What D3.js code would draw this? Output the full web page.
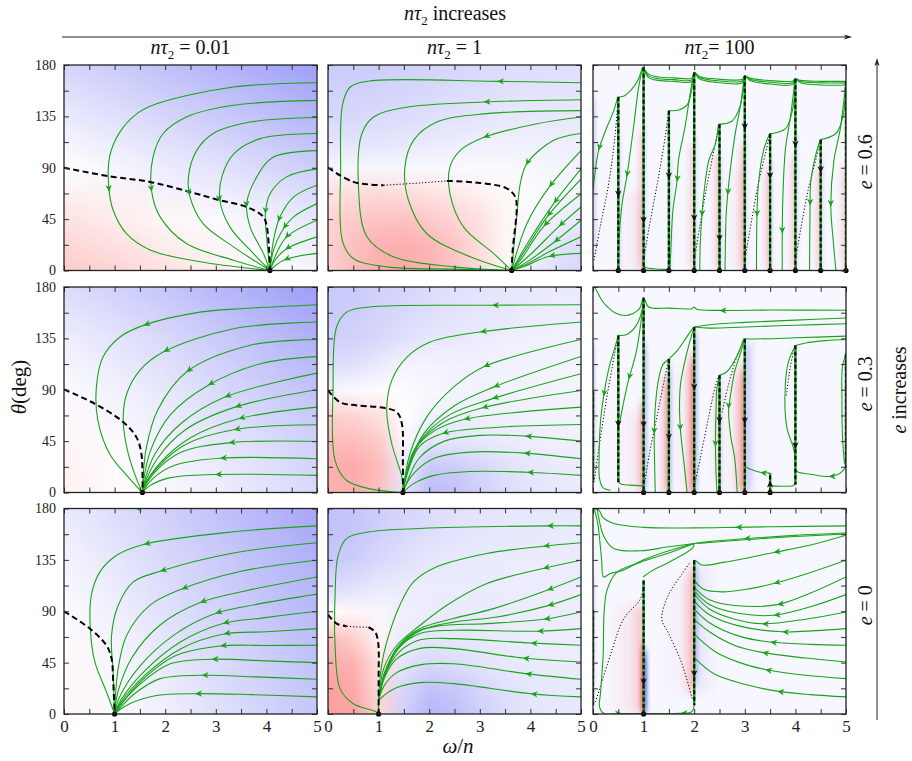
<!DOCTYPE html>
<html lang="en">
<head>
<meta charset="UTF-8">
<title>Spin flows</title>
<script src="https://cdn.jsdelivr.net/npm/d3@7"></script>
<style>
    body { margin: 0; background: #fff; }
    .flow { fill: none; stroke: #1aa31a; stroke-width: 1.1; }
    .dash { fill: none; stroke: #000; stroke-width: 2; stroke-dasharray: 6 3.5; }
    .dot { fill: none; stroke: #000; stroke-width: 1; stroke-dasharray: 1.2 2; }
</style>
</head>
<body>
<svg id="chart"></svg>
<script>
    /* axes */
    const omegaTicks = [0, 1, 2, 3, 4, 5];
    const omegaMinor = [0, 0.5, 1, 1.5, 2, 2.5, 3, 3.5, 4, 4.5, 5];
    const thetaTicks = [0, 45, 90, 135, 180];
    const thetaMinor = [0, 22.5, 45, 67.5, 90, 112.5, 135, 157.5, 180];
    const tauLabels = ["0.01", "1", "100"];
    const eLabels = ["0.6", "0.3", "0"];

    /* backgrounds: rows theta=180 -> 0, + blue / - red */
    const bg_e6t0 = [
        [30, 38, 46, 54, 62, 70],
        [15, 22, 30, 38, 46, 55],
        [0, 6, 13, 20, 28, 36],
        [-15, -10, -4, 3, 10, 18],
        [-28, -22, -15, -8, 0, 8]];
    const bg_e3t0 = [
        [25, 33, 42, 52, 62, 72],
        [12, 20, 28, 38, 48, 58],
        [2, 10, 18, 27, 36, 45],
        [-5, 2, 10, 18, 26, 35],
        [-8, -2, 5, 12, 20, 28]];
    const bg_e0t0 = [
        [15, 25, 35, 45, 55, 65],
        [8, 18, 28, 38, 48, 58],
        [2, 12, 22, 32, 42, 52],
        [-3, 6, 16, 26, 36, 46],
        [-5, 3, 12, 22, 32, 42]];
    const bg_e6t1 = [
        [38, 38, 36, 34, 32, 30, 28, 26, 25, 24, 22],
        [34, 34, 32, 30, 28, 26, 24, 22, 21, 20, 20],
        [28, 28, 27, 25, 23, 21, 19, 17, 16, 16, 16],
        [20, 20, 19, 17, 15, 13, 12, 11, 11, 12, 13],
        [6, 6, 5, 5, 4, 4, 4, 4, 5, 7, 9],
        [-15, -18, -20, -18, -15, -12, -8, -3, 2, 6, 10],
        [-22, -28, -32, -32, -28, -22, -15, -5, 5, 12, 18],
        [-25, -33, -40, -42, -38, -30, -18, -5, 10, 20, 26],
        [-25, -35, -42, -45, -40, -30, -18, -3, 12, 24, 30]];
    const bg_e3t1 = [
        [40, 38, 34, 30, 26, 22, 20, 18, 16, 15, 15],
        [38, 36, 32, 28, 24, 20, 18, 16, 14, 13, 13],
        [35, 33, 28, 22, 18, 16, 14, 12, 11, 10, 10],
        [25, 22, 15, 8, 8, 10, 10, 10, 9, 9, 9],
        [8, 4, 2, 2, 5, 8, 9, 9, 9, 9, 9],
        [-25, -22, -15, 0, 10, 12, 12, 11, 10, 10, 10],
        [-35, -35, -28, 5, 20, 20, 17, 15, 13, 12, 12],
        [-42, -45, -35, 15, 40, 38, 30, 22, 18, 15, 14],
        [-40, -42, -32, 20, 50, 45, 35, 25, 20, 16, 15]];
    const bg_e0t1 = [
        [45, 42, 36, 30, 26, 22, 20, 18, 17, 16, 16],
        [45, 42, 35, 28, 24, 20, 18, 17, 16, 15, 15],
        [40, 36, 28, 22, 18, 16, 15, 14, 14, 14, 14],
        [28, 22, 16, 14, 14, 14, 14, 14, 13, 13, 13],
        [0, -5, 5, 12, 14, 15, 15, 14, 13, 13, 13],
        [-35, -25, -5, 14, 18, 18, 16, 15, 14, 13, 13],
        [-45, -40, -15, 20, 28, 25, 20, 17, 15, 14, 14],
        [-50, -45, -20, 30, 45, 40, 30, 22, 18, 16, 15],
        [-50, -48, -22, 35, 55, 48, 35, 25, 20, 17, 16]];

    /* shading near resonances: [w0, w1, lo, hi, value]; red fades in toward w1, blue fades out from w0 */
    const strip_e6t2 = [
        [0.8, 0.99, 0, 120, -25], [1.8, 1.99, 0, 110, -25], [2.3, 2.49, 0, 100, -30], [2.8, 2.99, 0, 110, -30],
        [3.3, 3.49, 0, 90, -30], [3.8, 3.99, 0, 100, -25], [4.3, 4.49, 0, 90, -25], [4.8, 4.99, 0, 90, -20],
        [0, 0.1, 20, 150, 25], [0.51, 0.6, 0, 120, 15], [1.01, 1.1, 0, 130, 15], [1.51, 1.6, 0, 100, 15],
        [2.01, 2.1, 0, 120, 15], [2.51, 2.6, 0, 100, 15], [3.01, 3.1, 0, 120, 15], [3.51, 3.6, 0, 100, 15],
        [4.01, 4.1, 0, 120, 15], [4.51, 4.6, 0, 100, 15],
        [0.3, 0.99, 0, 70, -10], [2.5, 2.99, 0, 90, -10]];
    const strip_e3t2 = [
        [0.85, 0.99, 0, 80, -45], [1.3, 1.49, 0, 100, -45], [1.8, 1.99, 0, 120, -60], [2.3, 2.49, 10, 90, -20],
        [2.75, 2.99, 0, 110, -50], [0, 0.06, 20, 130, 40], [1.01, 1.12, 0, 130, 35], [1.51, 1.6, 0, 110, 30],
        [2.01, 2.12, 0, 140, 35], [2.51, 2.6, 0, 100, 15], [3.01, 3.25, 0, 130, 25],
        [0.3, 0.99, 0, 70, -12], [1.2, 1.49, 0, 100, -12], [1.5, 1.99, 0, 110, -14], [2.4, 2.99, 0, 100, -12]];
    const strip_e0t2 = [
        [0.88, 0.99, 0, 60, -85], [1.75, 1.99, 20, 130, -30], [0, 0.05, 30, 120, 40],
        [1.01, 1.12, 0, 55, 85], [2.01, 2.12, 30, 130, 30], [2.01, 2.5, 20, 130, 10],
        [0.3, 0.99, 0, 95, -22], [1.3, 1.99, 20, 120, -12]];

    /* fixed points on theta = 0 */
    const fixed_e6t0 = [4.07];
    const fixed_e3t0 = [1.55];
    const fixed_e0t0 = [1.0];
    const fixed_e6t1 = [3.63];
    const fixed_e3t1 = [1.48];
    const fixed_e0t1 = [1.0];
    const fixed_e6t2 = [0.5, 1, 1.5, 2, 2.5, 3, 3.5, 4, 4.5, 5];
    const fixed_e3t2 = [1, 1.5, 2, 2.5, 3, 3.5];
    const fixed_e0t2 = [1];

    /* black separatrix curves */
    const dash_e6t0 = [
        {pts: [[0, 90], [0.9, 82.5], [1.7, 77.6], [2.49, 68.8], [3.08, 61.5], [3.61, 55.7], [3.94, 47], [4.01, 38], [4.05, 20], [4.07, 0]], style: "dash"}];
    const dash_e3t0 = [
        {pts: [[0, 90.3], [0.61, 77.7], [1.17, 61.7], [1.43, 48.5], [1.53, 34], [1.55, 0]], style: "dash"}];
    const dash_e0t0 = [
        {pts: [[0, 90], [0.51, 74.8], [0.84, 60], [0.94, 48.5], [0.97, 31], [1.0, 0]], style: "dash"}];
    const dash_e6t1 = [
        {pts: [[0, 90.1], [0.5, 77.6], [1.1, 74.7]], style: "dash"},
        {pts: [[1.1, 74.7], [1.82, 76.7], [2.35, 78.5]], style: "dot"},
        {pts: [[2.35, 78.5], [3.0, 76.7], [3.54, 71.8], [3.7, 64.5], [3.73, 55.7], [3.65, 17.8], [3.63, 0]], style: "dash"}];
    const dash_e3t1 = [
        {pts: [[0, 89.4], [0.24, 79], [0.57, 76.3], [1.1, 74.2], [1.36, 70.4], [1.46, 60.2], [1.48, 30], [1.48, 0]], style: "dash"}];
    const dash_e0t1 = [
        {pts: [[0, 87], [0.17, 79.2], [0.37, 76.9]], style: "dash"},
        {pts: [[0.37, 76.9], [0.55, 76.3], [0.8, 76]], style: "dot"},
        {pts: [[0.8, 76], [0.93, 72], [0.99, 63], [1.0, 30], [1.0, 0]], style: "dash"}];
    const dash_e6t2 = [
        {pts: [[0.02, 9], [0.14, 38], [0.31, 76], [0.44, 120], [0.49, 149]], style: "dot"},
        {pts: [[1.0, 9], [1.11, 38], [1.27, 76], [1.43, 118], [1.49, 138]], style: "dot"},
        {pts: [[2.0, 9], [2.1, 36], [2.25, 74], [2.41, 110], [2.48, 126]], style: "dot"},
        {pts: [[3.0, 9], [3.1, 35], [3.25, 72], [3.42, 105], [3.49, 118]], style: "dot"},
        {pts: [[4.0, 9], [4.1, 35], [4.25, 70], [4.42, 100], [4.49, 113]], style: "dot"}];
    const dash_e3t2 = [
        {pts: [[0.02, 9], [0.12, 40], [0.28, 85], [0.43, 122], [0.49, 136]], style: "dot"},
        {pts: [[1.02, 9], [1.12, 35], [1.28, 70], [1.43, 103], [1.49, 115]], style: "dot"},
        {pts: [[2.02, 9], [2.12, 30], [2.28, 65], [2.43, 95], [2.49, 102]], style: "dot"},
        {pts: [[2.55, 70], [2.68, 95], [2.85, 120], [2.97, 133]], style: "dot"},
        {pts: [[3.82, 85], [3.9, 110], [3.98, 127]], style: "dot"}];
    const dash_e0t2 = [
        {pts: [[0.05, 10.5], [0.34, 51], [0.61, 83.6], [0.94, 101], [0.99, 113]], style: "dot"},
        {pts: [[1.96, 13.5], [1.75, 45], [1.5, 70], [1.36, 83.6], [1.5, 105], [1.75, 122], [1.92, 133]], style: "dot"}];

    /* vertical resonance lines (nτ2 = 100) */
    const vert_e6t2 = [
        {w: 0.5, lo: 0, hi: 152, arrow: 64}, {w: 1, lo: 0, hi: 178, arrow: 41},
        {w: 1.5, lo: 0, hi: 140, arrow: 80}, {w: 2, lo: 0, hi: 173.5, arrow: 43},
        {w: 2.5, lo: 0, hi: 128, arrow: 25}, {w: 3, lo: 0, hi: 170.5, arrow: 122.6},
        {w: 3.5, lo: 0, hi: 119.7, arrow: 80}, {w: 4, lo: 0, hi: 168, arrow: 107.5},
        {w: 4.5, lo: 0, hi: 114.5, arrow: 85}, {w: 5, lo: 0, hi: 166, arrow: null}];
    const vert_e3t2 = [
        {w: 0, lo: 9, hi: 89, arrow: null}, {w: 0.5, lo: 9, hi: 137.6, arrow: 57},
        {w: 1, lo: 0, hi: 170.5, arrow: 56}, {w: 1.5, lo: 0, hi: 117, arrow: 45.6},
        {w: 2, lo: 0, hi: 145, arrow: 89.4}, {w: 2.5, lo: 0, hi: 102.6, arrow: 60},
        {w: 3, lo: 0, hi: 134.7, arrow: 59.6}, {w: 3.5, lo: 0, hi: 17, arrow: 10.5, up: true},
        {w: 4, lo: 7, hi: 129, arrow: 38}, {w: 5, lo: 22, hi: 121.6, arrow: null}];
    const vert_e0t2 = [
        {w: 0, lo: 7.6, hi: 91, arrow: null}, {w: 1, lo: 0, hi: 117, arrow: 25},
        {w: 2, lo: 7.6, hi: 134.7, arrow: 32.4}];

    /* green flow lines: [omega, theta] in flow order, arrows at [omega, theta] */
    const flow_e6t0 = [
        {pts: [[5, 164.5], [3.35, 160.7], [1.83, 146], [1.43, 137], [1.1, 121], [0.9, 99.5], [0.885, 73], [0.97, 53], [1.24, 32], [1.7, 18], [2.69, 7.6], [4.07, 0]], arrows: [[0.9, 68.8]]},
        {pts: [[5, 149], [3.35, 144.7], [2.42, 134.5], [1.96, 120], [1.76, 99.5], [1.73, 70], [1.9, 47], [2.42, 23.6], [3.35, 9], [4.07, 0]], arrows: [[1.73, 68.8]]},
        {pts: [[5, 134], [3.68, 130], [2.95, 120], [2.62, 105], [2.46, 82], [2.49, 64.5], [2.75, 41], [3.35, 20.7], [4.07, 0]], arrows: [[2.47, 65.3]]},
        {pts: [[5, 120], [3.88, 115.5], [3.35, 102], [3.12, 82], [3.08, 61.5], [3.28, 38], [3.68, 17.8], [4.07, 0]], arrows: [[3.08, 60]]},
        {pts: [[5, 105], [4.14, 99.5], [3.81, 82], [3.61, 58.6], [3.68, 38], [3.94, 15], [4.07, 0]], arrows: [[3.61, 55]]},
        {pts: [[5, 89], [4.4, 82], [4.07, 67], [3.98, 50], [4.01, 26.5], [4.07, 0]], arrows: [[3.99, 49.3]]},
        {pts: [[5, 74.7], [4.54, 64.5], [4.27, 47], [4.14, 26.5], [4.07, 0]], arrows: [[4.23, 42.6]]},
        {pts: [[5, 58.6], [4.54, 47], [4.3, 34], [4.14, 17.8], [4.07, 0]], arrows: [[4.36, 35.3]]},
        {pts: [[5, 44], [4.4, 29.5], [4.2, 15], [4.07, 0]], arrows: [[4.39, 27]]},
        {pts: [[5, 29.5], [4.4, 19], [4.17, 9], [4.07, 0]], arrows: [[4.37, 18.4]]},
        {pts: [[5, 15], [4.34, 9], [4.07, 0]], arrows: [[4.34, 9]]}];
    const flow_e3t0 = [
        {pts: [[5, 164.5], [3.5, 161], [2.69, 158], [1.57, 146.4], [1.1, 136], [0.77, 118.6], [0.64, 92.3], [0.67, 63], [0.9, 34], [1.3, 12], [1.55, 0]], arrows: [[1.57, 146.4]]},
        {pts: [[5, 149.3], [3.35, 143.5], [1.96, 123], [1.5, 107], [1.24, 86.5], [1.17, 63], [1.27, 34], [1.45, 10], [1.55, 0]], arrows: [[1.96, 123]]},
        {pts: [[5, 134], [3.68, 129], [2.42, 105.5], [1.85, 72], [1.63, 40], [1.56, 12], [1.55, 0]], arrows: [[2.42, 105.5]]},
        {pts: [[5, 119], [3.9, 113], [2.85, 94], [2.1, 68], [1.72, 38], [1.57, 10], [1.55, 0]], arrows: [[2.85, 93.8]]},
        {pts: [[5, 104.6], [3.18, 83.6], [2.3, 60], [1.8, 34], [1.58, 8], [1.55, 0]], arrows: [[3.18, 83.6]]},
        {pts: [[5, 90], [3.38, 74.8], [2.4, 55], [1.85, 30], [1.58, 6], [1.55, 0]], arrows: [[3.38, 74.8]]},
        {pts: [[5, 74.8], [3.45, 64.6], [2.5, 48], [1.9, 26], [1.58, 5], [1.55, 0]], arrows: [[3.45, 64.6]]},
        {pts: [[5, 59.3], [3.35, 55], [2.4, 42], [1.85, 22], [1.57, 4], [1.55, 0]], arrows: [[3.35, 55]]},
        {pts: [[5, 44.7], [3.25, 43.5], [2.3, 35], [1.8, 18], [1.57, 3], [1.55, 0]], arrows: [[3.25, 43.5]]},
        {pts: [[5, 29.5], [3.08, 30], [2.2, 24], [1.75, 12], [1.55, 0]], arrows: [[3.08, 30]]},
        {pts: [[5, 15], [2.98, 15.8], [2.1, 13], [1.7, 6], [1.55, 0]], arrows: [[2.98, 15.8]]}];
    const flow_e0t0 = [
        {pts: [[1.58, 180], [1.25, 180]], arrows: [[1.4, 180]]},
        {pts: [[5, 164.8], [3.35, 159.6], [1.57, 148.5], [1.04, 139], [0.71, 124.5], [0.54, 104], [0.52, 74.8], [0.61, 45.6], [0.84, 19.3], [1.0, 0]], arrows: [[1.57, 148.5]]},
        {pts: [[5, 150], [3.35, 141], [1.9, 125], [1.37, 115.7], [1.07, 95], [0.94, 69], [0.97, 36.8], [1.0, 0]], arrows: [[1.9, 125]]},
        {pts: [[5, 134.7], [3.5, 125], [2.32, 109.3], [1.7, 95.3], [1.24, 69], [1.07, 39.7], [1.0, 0]], arrows: [[2.32, 109.3]]},
        {pts: [[5, 120], [3.6, 108], [2.69, 97.6], [1.9, 78], [1.35, 50], [1.07, 20], [1.0, 0]], arrows: [[2.69, 97.6]]},
        {pts: [[5, 105], [3.8, 96], [2.99, 88], [2.2, 70], [1.5, 42], [1.1, 15], [1.0, 0]], arrows: [[2.99, 88]]},
        {pts: [[5, 90], [3.9, 84], [3.14, 79.2], [2.3, 63], [1.6, 38], [1.12, 12], [1.0, 0]], arrows: [[3.14, 79.2]]},
        {pts: [[5, 74.8], [4.0, 72], [3.16, 70.1], [2.3, 57], [1.6, 34], [1.12, 10], [1.0, 0]], arrows: [[3.16, 70.1]]},
        {pts: [[5, 60.2], [4.0, 60], [3.08, 59.6], [2.2, 51], [1.55, 30], [1.12, 8], [1.0, 0]], arrows: [[3.08, 59.6]]},
        {pts: [[5, 45], [4.0, 46.5], [2.92, 48], [2.1, 44], [1.5, 26], [1.1, 7], [1.0, 0]], arrows: [[2.92, 48]]},
        {pts: [[5, 30.4], [3.8, 32.5], [2.72, 33.9], [1.9, 31], [1.4, 18], [1.1, 5], [1.0, 0]], arrows: [[2.72, 33.9]]},
        {pts: [[5, 15], [3.7, 17], [2.59, 17.8], [1.8, 16], [1.3, 9], [1.05, 2], [1.0, 0]], arrows: [[2.59, 17.8]]}];
    const flow_e6t1 = [
        {pts: [[5, 164.5], [3.34, 165.7], [0.83, 166], [0.44, 160.7], [0.29, 146], [0.25, 90.7], [0.29, 25], [0.5, 10.5], [1.16, 3.2], [2.48, 1.2], [3.63, 0]], arrows: [[3.34, 165.7]]},
        {pts: [[5, 149.6], [3.07, 147.6], [1.49, 142.6], [0.9, 134.5], [0.67, 120], [0.6, 76], [0.77, 29.5], [1.29, 12], [2.48, 3.2], [3.63, 0]], arrows: [[3.07, 147.6]]},
        {pts: [[5, 140], [3.14, 137.4], [2.15, 130], [1.69, 114], [1.52, 90.7], [1.59, 61.5], [1.95, 32.4], [2.81, 12], [3.63, 0]], arrows: []},
        {pts: [[5, 134.5], [4.13, 128.6], [3.07, 116.4], [2.61, 105], [2.41, 90.7], [2.41, 67.4], [2.68, 38], [3.27, 15], [3.63, 0]], arrows: [[3.07, 116.4]]},
        {pts: [[5, 120], [4.46, 114], [3.93, 93.6], [3.8, 76], [3.73, 47], [3.66, 15], [3.63, 0]], arrows: [[3.9, 92.2]]},
        {pts: [[5, 105], [4.37, 73], [3.93, 41], [3.63, 0]], arrows: [[4.37, 73]]},
        {pts: [[5, 89], [4.46, 58.6], [4.0, 28], [3.63, 0]], arrows: [[4.46, 58.6]]},
        {pts: [[5, 80], [4.33, 47], [3.9, 18], [3.63, 0]], arrows: [[4.33, 47]]},
        {pts: [[5, 67], [4.26, 38.5], [3.85, 12], [3.63, 0]], arrows: [[4.26, 38.5]]},
        {pts: [[5, 55.7], [4.56, 38.5], [4.0, 14], [3.63, 0]], arrows: [[4.56, 38.5]]},
        {pts: [[5, 44], [4.46, 24.5], [3.95, 8], [3.63, 0]], arrows: [[4.46, 24.5]]},
        {pts: [[5, 29.5], [4.4, 17], [3.9, 5], [3.63, 0]], arrows: []},
        {pts: [[5, 15], [4.36, 12.2], [3.9, 4], [3.63, 0]], arrows: [[4.36, 12.2]]}];
    const flow_e3t1 = [
        {pts: [[5, 164.5], [3.24, 164], [0.83, 162.5], [0.37, 158], [0.17, 145], [0.1, 92.3], [0.14, 28], [0.37, 10.5], [0.83, 3.2], [1.48, 0]], arrows: [[3.24, 164]]},
        {pts: [[5, 149.3], [3.0, 140.6], [2.02, 131.8], [1.56, 118.6], [1.26, 98.2], [1.16, 72], [1.26, 42.7], [1.46, 13.4], [1.48, 0]], arrows: [[3.0, 140.6]]},
        {pts: [[5, 134], [3.07, 110], [2.48, 92.3], [1.95, 66], [1.62, 34], [1.48, 0]], arrows: [[3.07, 110]]},
        {pts: [[5, 119.2], [3.27, 92.3], [2.5, 76], [1.9, 52], [1.58, 22], [1.48, 0]], arrows: [[3.27, 92.3]]},
        {pts: [[5, 104], [3.24, 82], [2.4, 68], [1.85, 47], [1.56, 18], [1.48, 0]], arrows: [[3.24, 82]]},
        {pts: [[5, 89.4], [3.04, 74], [2.3, 62], [1.8, 43], [1.55, 15], [1.48, 0]], arrows: [[3.04, 74]]},
        {pts: [[5, 74.8], [2.68, 64], [2.1, 54], [1.7, 37], [1.53, 12], [1.48, 0]], arrows: [[2.68, 64]]},
        {pts: [[5, 59.6], [3.3, 57], [2.25, 51.4], [1.8, 40], [1.55, 14], [1.48, 0]], arrows: [[2.25, 51.4]]},
        {pts: [[5, 45], [3.9, 49.4], [3.0, 50], [2.3, 45], [1.8, 30], [1.55, 8], [1.48, 0]], arrows: [[3.9, 49.4]]},
        {pts: [[5, 29.5], [3.87, 34.5], [2.8, 35.4], [2.1, 30], [1.7, 17], [1.5, 3], [1.48, 0]], arrows: [[3.87, 34.5]]},
        {pts: [[5, 15], [3.93, 17.8], [2.8, 18.4], [2.1, 15], [1.7, 8], [1.48, 0]], arrows: [[3.93, 17.8]]}];
    const flow_e0t1 = [
        {pts: [[5, 164.8], [4.33, 164.8], [1.82, 162.5], [0.83, 159.6], [0.37, 153.8], [0.2, 139], [0.14, 104], [0.14, 60], [0.24, 22], [0.5, 9], [0.96, 1.8], [1.0, 0]], arrows: [[4.33, 164.8]]},
        {pts: [[5, 150], [4.25, 147], [3.14, 140.6], [2.15, 128.9], [1.69, 115.7], [1.42, 95.3], [1.16, 63], [1.06, 42.7], [1.0, 15], [1.0, 0]], arrows: [[4.25, 147]]},
        {pts: [[5, 134.7], [4.25, 127.4], [3.14, 114.3], [2.35, 95.3], [1.82, 77.7], [1.36, 60.2], [1.1, 39.7], [1.01, 15], [1.0, 0]], arrows: [[4.25, 127.4]]},
        {pts: [[5, 120], [4.33, 108.4], [3.27, 92.3], [2.48, 83.6], [1.82, 74.8], [1.4, 60], [1.15, 40], [1.02, 18], [1.0, 12]], arrows: [[4.33, 108.4]]},
        {pts: [[5, 104.6], [4.33, 94.7], [3.34, 85], [2.48, 80.5], [1.82, 73], [1.4, 58], [1.15, 38], [1.02, 17], [1.0, 12]], arrows: [[4.33, 94.7]]},
        {pts: [[5, 89.4], [4.26, 83], [3.14, 79.2], [2.15, 77], [1.7, 71], [1.35, 56], [1.12, 36], [1.02, 17], [1.0, 12]], arrows: [[4.26, 83]]},
        {pts: [[5, 74.8], [4.13, 72.5], [2.48, 73.3], [1.82, 70.5], [1.4, 58], [1.12, 36], [1.0, 12]], arrows: [[4.13, 72.5]]},
        {pts: [[5, 60.2], [4.0, 62.2], [2.48, 66], [1.82, 65], [1.4, 54], [1.12, 34], [1.0, 12]], arrows: [[4.0, 62.2]]},
        {pts: [[5, 45.6], [3.85, 49], [2.48, 57.3], [1.82, 57.5], [1.35, 48], [1.1, 30], [1.0, 12]], arrows: [[3.85, 49]]},
        {pts: [[5, 30.4], [3.9, 35.4], [2.48, 44], [1.82, 43], [1.35, 36], [1.1, 24], [1.0, 12]], arrows: [[3.9, 35.4]]},
        {pts: [[5, 15], [4.0, 17.8], [2.48, 26.6], [1.82, 27.5], [1.35, 23], [1.1, 16], [1.0, 12]], arrows: [[4.0, 17.8]]}];
    const flow_e6t2 = [
        {pts: [[0.99, 178], [1.1, 172], [1.3, 169.5], [1.6, 168.7], [1.95, 168.5], [2, 173.5], [2.1, 170], [2.4, 168], [2.95, 167.5], [3, 170.5], [3.1, 168.5], [3.5, 166.3], [3.95, 166], [4, 168], [4.1, 166.5], [4.5, 165.7], [5, 165.7]], arrows: []},
        {pts: [[0.99, 178], [1.1, 170.5], [1.3, 168], [1.6, 167.2], [1.95, 167], [2, 173.5], [2.1, 169], [2.4, 166.5], [2.95, 166], [3, 170.5], [3.1, 167.5], [3.5, 164.9], [3.95, 164.5], [4, 168], [4.1, 165.5], [4.5, 164.3], [5, 164.3]], arrows: []},
        {pts: [[0.99, 178], [1.1, 169], [1.3, 166.5], [1.6, 165.7], [1.95, 165.5], [2, 173.5], [2.1, 168], [2.4, 165], [2.95, 164.5], [3, 170.5], [3.1, 166.5], [3.5, 163.4], [3.95, 163], [4, 168], [4.1, 164.5], [4.5, 162.5], [5, 162.5]], arrows: []},
        {pts: [[0.49, 152], [0.6, 152.6], [0.75, 158], [0.88, 166], [0.98, 178]], arrows: []},
        {pts: [[1.49, 140], [1.7, 140.5], [1.86, 145], [1.94, 156], [1.99, 173]], arrows: []},
        {pts: [[2.48, 128], [2.75, 131], [2.9, 143], [2.96, 156], [2.99, 170]], arrows: []},
        {pts: [[3.49, 119.7], [3.8, 124], [3.93, 138], [3.98, 152], [4.0, 167]], arrows: []},
        {pts: [[4.49, 114.5], [4.8, 120], [4.93, 133], [4.98, 148], [5.0, 165]], arrows: []},
        {pts: [[0.49, 152], [0.41, 140], [0.27, 125], [0.11, 105], [0.03, 82], [0, 70]], arrows: [[0.11, 105]]},
        {pts: [[0.98, 178], [0.9, 160], [0.8, 125], [0.7, 92], [0.66, 80], [0.58, 60], [0.53, 38], [0.5, 10], [0.5, 0]], arrows: [[0.67, 81.9]]},
        {pts: [[1.99, 173], [1.92, 155], [1.82, 126], [1.69, 97], [1.66, 78], [1.58, 53], [1.54, 20], [1.52, 0]], arrows: [[1.66, 77.5]]},
        {pts: [[2.48, 128], [2.42, 111], [2.29, 96.6], [2.19, 67], [2.15, 47], [2.12, 23.6], [2.11, 0]], arrows: [[2.15, 46.9]]},
        {pts: [[2.99, 170], [2.92, 146], [2.8, 117], [2.66, 66], [2.63, 47], [2.61, 0]], arrows: [[2.65, 65.8]]},
        {pts: [[3.49, 119.7], [3.37, 105], [3.27, 76], [3.24, 47], [3.23, 0]], arrows: [[3.24, 46.9]]},
        {pts: [[3.99, 166], [3.9, 134], [3.8, 105], [3.75, 60], [3.74, 32], [3.74, 0]], arrows: [[3.74, 32.3]]},
        {pts: [[4.49, 114.5], [4.39, 99], [4.3, 76], [4.29, 57], [4.28, 0]], arrows: [[4.29, 57]]},
        {pts: [[4.99, 163], [4.89, 125], [4.76, 96], [4.7, 56], [4.75, 25], [4.8, 0]], arrows: [[4.7, 55.6]]},
        {pts: [[0.99, 9], [1.03, 3], [1.2, 1.5], [1.49, 1]], arrows: []}];
    const flow_e3t2 = [
        {pts: [[5, 159.6], [3.5, 159.8], [2.5, 159.5], [2.05, 160.5], [2.0, 162.5], [1.95, 161], [1.5, 161.5], [1.1, 162.5], [1.0, 170.5], [0.92, 161], [0.8, 157], [0.65, 155], [0.45, 157], [0.3, 162], [0.18, 168], [0.05, 178.5], [0.02, 180]], arrows: [[2.5, 159.5]]},
        {pts: [[5, 152.8], [4, 151], [3, 149], [2.3, 147], [2.0, 145]], arrows: []},
        {pts: [[5, 147.8], [4, 146.5], [3, 145], [2.3, 144], [2.0, 145]], arrows: []},
        {pts: [[5, 137], [4, 135.5], [3.2, 134.5], [3.0, 134.7]], arrows: []},
        {pts: [[5, 134], [4.6, 133], [4.2, 131], [4.02, 129]], arrows: []},
        {pts: [[0.5, 137.6], [0.67, 138.5], [0.85, 146], [0.96, 158], [1.0, 170.5]], arrows: []},
        {pts: [[1.5, 117], [1.66, 124], [1.86, 136.7], [1.99, 145]], arrows: []},
        {pts: [[2.5, 102.6], [2.65, 106], [2.85, 120], [2.98, 134.7]], arrows: []},
        {pts: [[0.5, 137.6], [0.44, 128], [0.31, 108], [0.21, 84], [0.15, 63], [0.12, 30], [0.13, 12], [0.2, 4], [0.35, 2]], arrows: [[0.21, 84]]},
        {pts: [[1.0, 170.5], [0.95, 150], [0.85, 122], [0.7, 98], [0.6, 78], [0.53, 62], [0.5, 57]], arrows: [[0.7, 98.8]]},
        {pts: [[0.5, 10.5], [0.54, 7.6], [0.75, 6.5], [0.99, 6]], arrows: []},
        {pts: [[1.5, 117], [1.38, 112], [1.3, 100], [1.24, 80], [1.21, 51], [1.22, 20], [1.23, 0]], arrows: [[1.21, 51]]},
        {pts: [[2.0, 145], [1.9, 130], [1.8, 112], [1.73, 95], [1.71, 75], [1.73, 54], [1.8, 25], [1.86, 0]], arrows: [[1.73, 54]]},
        {pts: [[2.5, 102.6], [2.45, 92], [2.43, 70], [2.42, 40], [2.43, 20], [2.45, 0]], arrows: [[2.42, 40]]},
        {pts: [[3.0, 134.7], [2.9, 120], [2.8, 106], [2.7, 80], [2.68, 73], [2.72, 50], [2.8, 30], [2.85, 0]], arrows: [[2.68, 73]]},
        {pts: [[3.5, 17], [3.3, 17.8], [3.1, 20.5], [3.0, 23]], arrows: [[3.3, 17.8]]},
        {pts: [[3.99, 127.5], [3.87, 115.7], [3.8, 93.8], [3.83, 57.3], [3.96, 39.2], [4.0, 30]], arrows: []},
        {pts: [[5, 22.2], [4.85, 16], [4.66, 14], [4.3, 16], [4.05, 18], [4.0, 20]], arrows: [[4.66, 14]]},
        {pts: [[3.5, 6], [3.7, 5.5], [3.95, 6], [4.0, 7.6]], arrows: []},
        {pts: [[5, 121.6], [4.93, 110], [4.92, 80], [4.93, 50], [4.97, 25]], arrows: []}];
    const flow_e0t2 = [
        {pts: [[5, 164.8], [3.5, 164], [2.82, 163.5], [2.0, 163], [1.0, 163.5], [0.41, 166.9], [0.2, 172], [0.14, 177], [0.08, 180]], arrows: [[2.82, 163.5]]},
        {pts: [[5, 158.5], [4, 156.5], [2.98, 153.5], [2.3, 151], [2.0, 149.3]], arrows: [[2.98, 153.3]]},
        {pts: [[5, 157.6], [4, 155.5], [3, 152.6], [2.3, 150.2], [2.0, 149.3]], arrows: []},
        {pts: [[5, 156.6], [4.3, 148], [3.57, 141.4], [2.6, 133], [2.15, 130.5], [2.02, 134.7]], arrows: [[3.57, 141.4]]},
        {pts: [[5, 134.7], [4.3, 124], [3.57, 114.3], [3.0, 109], [2.55, 107], [2.2, 109], [2.02, 116]], arrows: [[3.57, 114.3]]},
        {pts: [[5, 120.1], [4.3, 106], [3.64, 95.8], [2.8, 95], [2.3, 100], [2.02, 110]], arrows: [[3.64, 95.8]]},
        {pts: [[5, 104.6], [4.3, 94], [3.57, 86.5], [2.9, 88], [2.3, 96], [2.02, 107]], arrows: [[3.57, 86.5]]},
        {pts: [[5, 89.4], [4.2, 83], [3.34, 79], [2.8, 83], [2.3, 92], [2.02, 104]], arrows: [[3.34, 79]]},
        {pts: [[5, 74.8], [4.4, 73], [3.74, 72], [2.9, 77], [2.3, 87], [2.02, 98]], arrows: [[3.74, 72]]},
        {pts: [[5, 60.2], [4.3, 61], [3.5, 63], [2.9, 68], [2.3, 80], [2.02, 91]], arrows: [[3.5, 63]]},
        {pts: [[5, 45.6], [4.2, 49], [3.34, 54], [2.8, 60], [2.3, 72], [2.02, 82]], arrows: [[3.34, 54]]},
        {pts: [[5, 31], [4.2, 34], [3.4, 39], [2.9, 45], [2.4, 55], [2.02, 69]], arrows: [[3.4, 39]]},
        {pts: [[5, 15], [4.3, 17], [3.64, 20], [3.0, 26], [2.4, 35], [2.02, 48.5]], arrows: [[3.64, 20]]},
        {pts: [[2.0, 149.3], [1.5, 146.5], [0.94, 143], [0.41, 145], [0.21, 156], [0.1, 175], [0.08, 180]], arrows: []},
        {pts: [[2.0, 149.3], [1.5, 143], [1.0, 135], [0.6, 126], [0.34, 123], [0.21, 120], [0.17, 135], [0.1, 165], [0.03, 178], [0, 180]], arrows: []},
        {pts: [[2.0, 149.3], [1.5, 141], [0.94, 133], [0.47, 124], [0.28, 109], [0.22, 89], [0.2, 51], [0.15, 19], [0.13, 6], [0.21, 0.6], [0.6, 0.4], [0.97, 0.4]], arrows: [[0.57, 0.4]]},
        {pts: [[0.99, 120], [1.13, 124.5], [1.5, 133], [1.96, 145], [2.0, 149.3]], arrows: []},
        {pts: [[2.0, 7.6], [1.97, 3], [1.9, 1], [1.73, 0.6], [1.3, 0.4], [1.0, 0.4]], arrows: [[1.73, 0.6]]}];

    /* layout */
    const width = 912, height = 761;
    const colX = [64, 328, 593];
    const rowY = [65, 287, 508.5];
    const pw = 253, ph = 205.5;
    const green = "#1aa31a";
    const serif = "Liberation Serif";

    const svg = d3.select("#chart").attr("width", width).attr("height", height);
    const defs = svg.append("defs");

    const gradient = (id, color, o0, o1) => {
        const gr = defs.append("linearGradient").attr("id", id);
        gr.append("stop").attr("offset", 0).attr("stop-color", color).attr("stop-opacity", o0);
        gr.append("stop").attr("offset", 0.6).attr("stop-color", color).attr("stop-opacity", (o0 + o1) / 2 * 0.6);
        gr.append("stop").attr("offset", 1).attr("stop-color", color).attr("stop-opacity", o1);
    };
    gradient("fadeRed", "rgb(240,30,30)", 0, 1);
    gradient("fadeBlue", "rgb(40,40,235)", 1, 0);
    defs.append("filter").attr("id", "softV")
        .attr("x", "-50%").attr("y", "-50%").attr("width", "200%").attr("height", "200%")
        .append("feGaussianBlur").attr("stdDeviation", "1 6");

    const tint = (v) => v >= 0
        ? [255 - 1.35 * v, 255 - 1.35 * v, 255 - 0.1 * v]
        : [255 + 0.05 * v, 255 + 1.9 * v, 255 + 1.9 * v];

    const gridImage = (grid) => {
        const rows = grid.length, cols = grid[0].length;
        const cv = document.createElement("canvas");
        cv.width = cols; cv.height = rows;
        const ctx = cv.getContext("2d");
        const img = ctx.createImageData(cols, rows);
        grid.forEach((r, i) => r.forEach((v, j) => {
            const c = tint(v), k = 4 * (i * cols + j);
            img.data[k] = c[0]; img.data[k + 1] = c[1]; img.data[k + 2] = c[2]; img.data[k + 3] = 255;
        }));
        ctx.putImageData(img, 0, 0);
        return cv.toDataURL();
    };

    const panels = [
        {row: 0, col: 0, bg: bg_e6t0, dash: dash_e6t0, flow: flow_e6t0, fixed: fixed_e6t0},
        {row: 0, col: 1, bg: bg_e6t1, dash: dash_e6t1, flow: flow_e6t1, fixed: fixed_e6t1},
        {row: 0, col: 2, strip: strip_e6t2, dash: dash_e6t2, flow: flow_e6t2, vert: vert_e6t2, fixed: fixed_e6t2},
        {row: 1, col: 0, bg: bg_e3t0, dash: dash_e3t0, flow: flow_e3t0, fixed: fixed_e3t0},
        {row: 1, col: 1, bg: bg_e3t1, dash: dash_e3t1, flow: flow_e3t1, fixed: fixed_e3t1},
        {row: 1, col: 2, strip: strip_e3t2, dash: dash_e3t2, flow: flow_e3t2, vert: vert_e3t2, fixed: fixed_e3t2},
        {row: 2, col: 0, bg: bg_e0t0, dash: dash_e0t0, flow: flow_e0t0, fixed: fixed_e0t0},
        {row: 2, col: 1, bg: bg_e0t1, dash: dash_e0t1, flow: flow_e0t1, fixed: fixed_e0t1},
        {row: 2, col: 2, strip: strip_e0t2, dash: dash_e0t2, flow: flow_e0t2, vert: vert_e0t2, fixed: fixed_e0t2}];

    const arrowHead = "M0,0L-7,-3.2L-5,0L-7,3.2Z";

    /* put arrow heads on a path near given data points */
    const placeArrows = (g, node, pts, x, y, color) => {
        const len = node.getTotalLength();
        pts.forEach(([w, t]) => {
            const px = x(w), py = y(t);
            let best = 0, bd = Infinity;
            for (let l = 0; l <= len; l += 0.5) {
                const p = node.getPointAtLength(l);
                const d = (p.x - px) ** 2 + (p.y - py) ** 2;
                if (d < bd) { bd = d; best = l; }
            }
            const a = node.getPointAtLength(Math.max(0, best - 2));
            const b = node.getPointAtLength(Math.min(len, best + 2));
            const p = node.getPointAtLength(best);
            const ang = Math.atan2(b.y - a.y, b.x - a.x) * 180 / Math.PI;
            g.append("path").attr("d", arrowHead)
                .attr("transform", `translate(${p.x},${p.y}) rotate(${ang})`)
                .attr("fill", color);
        });
    };

    panels.forEach((p) => {
        const x0 = colX[p.col], y0 = rowY[p.row];
        const x = d3.scaleLinear().domain([0, 5]).range([x0, x0 + pw]);
        const y = d3.scaleLinear().domain([0, 180]).range([y0 + ph, y0]);
        const line = d3.line().x(d => x(d[0])).y(d => y(d[1])).curve(d3.curveCatmullRom.alpha(0.5));
        const clipId = `clip${p.row}${p.col}`;
        defs.append("clipPath").attr("id", clipId).append("rect")
            .attr("x", x0).attr("y", y0).attr("width", pw).attr("height", ph);
        const g = svg.append("g").attr("clip-path", `url(#${clipId})`);

        /* background */
        if (p.bg) {
            const dw = 5 / (p.bg[0].length - 1), dt = 180 / (p.bg.length - 1);
            g.append("image")
                .attr("href", gridImage(p.bg))
                .attr("preserveAspectRatio", "none")
                .attr("x", x(-dw / 2)).attr("y", y(180 + dt / 2))
                .attr("width", x(5 + dw / 2) - x(-dw / 2))
                .attr("height", y(-dt / 2) - y(180 + dt / 2));
        } else {
            g.append("rect").attr("x", x0).attr("y", y0).attr("width", pw).attr("height", ph)
                .attr("fill", "rgb(247,247,255)");
            g.selectAll(".strip").data(p.strip).enter().append("rect")
                .attr("x", d => x(d[0])).attr("width", d => x(d[1]) - x(d[0]))
                .attr("y", d => y(d[3])).attr("height", d => y(d[2]) - y(d[3]))
                .attr("fill", d => d[4] < 0 ? "url(#fadeRed)" : "url(#fadeBlue)")
                .attr("opacity", d => Math.abs(d[4]) / 100)
                .attr("filter", "url(#softV)");
        }

        /* dotted separatrices go under the flow */
        p.dash.filter(d => d.style === "dot").forEach(d => {
            g.append("path").attr("class", "dot").attr("d", line(d.pts));
        });

        /* flow lines */
        const arrowLayer = [];
        p.flow.forEach((f) => {
            const path = g.append("path").attr("class", "flow").attr("d", line(f.pts));
            arrowLayer.push([path.node(), f.arrows]);
        });

        /* resonance lines */
        if (p.vert) {
            const straight = d3.line().x(d => x(d[0])).y(d => y(d[1]));
            p.vert.forEach((v) => {
                const pts = v.up ? [[v.w, v.lo], [v.w, v.hi]] : [[v.w, v.hi], [v.w, v.lo]];
                g.append("path").attr("d", straight(pts))
                    .attr("stroke", green).attr("stroke-width", 2.4).attr("fill", "none");
                const blk = g.append("path").attr("d", straight(pts))
                    .attr("stroke", "#111").attr("stroke-width", 2.2).attr("fill", "none")
                    .attr("stroke-dasharray", "4 2.5");
                if (v.arrow !== null) {
                    placeArrows(g, blk.node(), [[v.w, v.arrow]], x, y, "#111");
                }
            });
        }

        p.dash.filter(d => d.style === "dash").forEach(d => {
            g.append("path").attr("class", "dash").attr("d", line(d.pts));
        });

        arrowLayer.forEach(([node, pts]) => placeArrows(g, node, pts, x, y, green));

        /* fixed points */
        svg.append("g").selectAll("circle").data(p.fixed).enter().append("circle")
            .attr("cx", d => x(d)).attr("cy", y(0)).attr("r", 2.6).attr("fill", "#000");

        /* ticks */
        const ax = svg.append("g");
        ax.append("g").attr("transform", `translate(0,${y0 + ph})`)
            .call(d3.axisBottom(x).tickValues(omegaMinor).tickSize(-5).tickFormat(""));
        ax.append("g").attr("transform", `translate(0,${y0})`)
            .call(d3.axisTop(x).tickValues(omegaMinor).tickSize(-5).tickFormat(""));
        ax.append("g").attr("transform", `translate(${x0},0)`)
            .call(d3.axisLeft(y).tickValues(thetaMinor).tickSize(-5).tickFormat(""));
        ax.append("g").attr("transform", `translate(${x0 + pw},0)`)
            .call(d3.axisRight(y).tickValues(thetaMinor).tickSize(-5).tickFormat(""));
        ax.selectAll(".domain").remove();
        ax.selectAll("line").attr("stroke", "#333").attr("stroke-width", 1);

        if (p.col === 0) {
            const la = svg.append("g").attr("transform", `translate(${x0},0)`)
                .call(d3.axisLeft(y).tickValues(thetaTicks).tickSize(0).tickPadding(8).tickFormat(d3.format("d")));
            la.select(".domain").remove();
            la.attr("font-family", serif).attr("font-size", 14);
            la.selectAll("text").attr("fill", "#222").attr("font-family", serif);
        }
        if (p.row === 2) {
            const lb = svg.append("g").attr("transform", `translate(0,${y0 + ph})`)
                .call(d3.axisBottom(x).tickValues(omegaTicks).tickSize(0).tickPadding(6).tickFormat(d3.format("d")));
            lb.select(".domain").remove();
            lb.attr("font-family", serif).attr("font-size", 17);
            lb.selectAll("text").attr("fill", "#222").attr("font-family", serif);
        }

        svg.append("rect").attr("x", x0).attr("y", y0).attr("width", pw).attr("height", ph)
            .attr("fill", "none").attr("stroke", "#222").attr("stroke-width", 1.3);
    });

    /* titles */
    const label = (sel, parts) => {
        parts.forEach(([txt, italic, sub]) => {
            sel.append("tspan").text(txt)
                .attr("font-family", serif)
                .attr("font-style", italic ? "italic" : null)
                .attr("font-size", sub === 1 ? 13 : null)
                .attr("dy", sub === 1 ? 5 : sub === -1 ? -5 : null);
        });
    };
    const text = (attrs) => {
        const t = svg.append("text").attr("font-family", serif).attr("fill", "#111")
            .attr("text-anchor", "middle");
        Object.entries(attrs).forEach(([k, v]) => t.attr(k, v));
        return t;
    };

    tauLabels.forEach((t, i) => {
        const tx = text({x: colX[i] + pw / 2, y: 54, "font-size": 20});
        label(tx, [["n", true], ["τ", true], ["2", false, 1], [i === 2 ? "= " + t : " = " + t, false, -1]]);
    });

    const topTitle = text({x: 455, y: 20, "font-size": 20});
    label(topTitle, [["n", true], ["τ", true], ["2", false, 1], [" increases", false, -1]]);

    eLabels.forEach((e, i) => {
        const cy = rowY[i] + ph / 2 - 6;
        const tx = text({transform: `translate(872,${cy}) rotate(-90)`, "font-size": 20});
        label(tx, [["e", true], [" = " + e, false]]);
    });

    const eInc = text({transform: "translate(906,390) rotate(-90)", "font-size": 20});
    label(eInc, [["e", true], [" increases", false]]);

    const yLab = text({transform: "translate(26,387) rotate(-90)", "font-size": 21});
    label(yLab, [["θ", true], ["(deg)", false]]);

    const xLab = text({x: 458, y: 753, "font-size": 21});
    label(xLab, [["ω", true], ["/", false], ["n", true]]);

    /* direction arrows */
    svg.append("line").attr("x1", 62).attr("y1", 37).attr("x2", 850).attr("y2", 37)
        .attr("stroke", "#222").attr("stroke-width", 1);
    svg.append("path").attr("d", "M852,37L844,34.5L846,37L844,39.5Z").attr("fill", "#222");
    svg.append("line").attr("x1", 877).attr("y1", 720).attr("x2", 877).attr("y2", 61)
        .attr("stroke", "#222").attr("stroke-width", 1);
    svg.append("path").attr("d", "M877,58L874.5,66L877,64L879.5,66Z").attr("fill", "#222");
</script>
</body>
</html>
